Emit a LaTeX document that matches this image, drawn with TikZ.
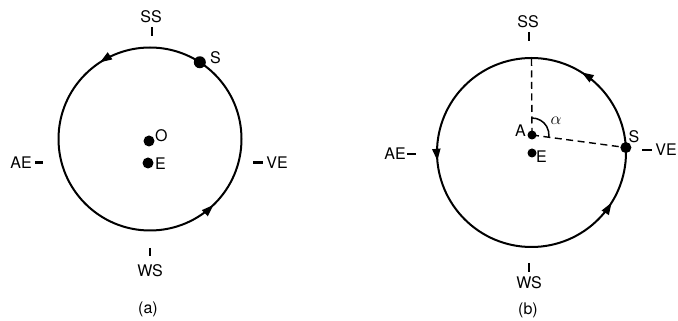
\documentclass[tikz,border=0pt]{standalone}
\usepackage{fontspec}
\setmainfont{TeX Gyre Heros}
\usetikzlibrary{arrows.meta,decorations.markings,calc}
\tikzset{
  orbit/.style={line width=2pt},
  dotnode/.style={circle,fill=black,inner sep=0pt,minimum size=#1},
  tickmark/.style={line width=2.4pt},
  lab/.style={font=\fontsize{16}{16}\selectfont,inner sep=0pt},
  dashline/.style={line width=1.4pt,dash pattern=on 7pt off 4.5pt},
  flowtip/.tip={Triangle[length=12pt,width=8pt]}
}
\begin{document}
\begin{tikzpicture}[x=1pt,y=1pt]
\useasboundingbox (0,0) rectangle (678,321);
% ---------------- panel (a) ----------------
\coordinate (ca) at (150,182);
\draw[orbit,postaction={decorate,decoration={markings,
   mark=at position 0.342 with {\arrow{flowtip}},
   mark=at position 0.872 with {\arrow{flowtip}}}}] (ca) circle (91.5);
\node[dotnode=12pt] (Sa) at ($(ca)+(57:91.5)$) {};
\node[lab,anchor=west] (Sal) at (210,263) {S};
\node[dotnode=11pt] (Oa) at (149,180) {};
\node[lab,anchor=west] (Oal) at (155,185) {O};
\node[dotnode=11pt] (Ea) at (148,158) {};
\node[lab,anchor=west] (Eal) at (155,157) {E};
\node[lab] (SSa) at (151,304) {SS};
\draw[tickmark] (152,294) -- (152,285);
\node[lab] (WSa) at (150,50) {WS};
\draw[tickmark] (150,73) -- (150,65);
\node[lab] (AEa) at (21,158.5) {AE};
\draw[tickmark] (35,158.5) -- (43,158.5);
\draw[tickmark] (253,158.5) -- (263,158.5);
\node[lab] (VEa) at (277,158.5) {VE};
\node[lab] (capa) at (148,12) {(a)};
% ---------------- panel (b) ----------------
\coordinate (cb) at (531.5,168.5);
\draw[orbit,postaction={decorate,decoration={markings,
   mark=at position 0.161 with {\arrow{flowtip}},
   mark=at position 0.514 with {\arrow{flowtip}},
   mark=at position 0.911 with {\arrow{flowtip}}}}] (cb) circle (94.5);
\coordinate (top) at ($(cb)+(0,94.5)$);
\node[dotnode=9pt] (A) at (532,186) {};
\node[lab,anchor=east] (Al) at (526,190) {A};
\node[dotnode=9pt] (Eb) at (532,168) {};
\node[lab,anchor=west] (Ebl) at (536,164) {E};
\node[dotnode=11pt] (Sb) at ($(cb)+(3:94.5)$) {};
\node[lab] (Sbl) at (634,184) {S};
\draw[dashline] (A.center) -- (top);
\draw[dashline] (A.center) -- (Sb.center);
\draw[line width=1.5pt] ($(A.center)+(90:17)$) arc[start angle=90,end angle=-7.7,radius=17];
\node[font=\fontsize{16}{16}\selectfont,inner sep=0pt] (alpha) at (556,200) {$\alpha$};
\node[lab] (SSb) at (528,299.5) {SS};
\draw[tickmark] (529,289) -- (529,280);
\node[lab] (WSb) at (529,38.5) {WS};
\draw[tickmark] (529,58) -- (529,49);
\node[lab] (AEb) at (395,167) {AE};
\draw[tickmark] (407,167) -- (416,167);
\draw[tickmark] (642,171) -- (652,171);
\node[lab] (VEb) at (666,171) {VE};
\node[lab] (capb) at (528,11) {(b)};
\end{tikzpicture}
\end{document}
